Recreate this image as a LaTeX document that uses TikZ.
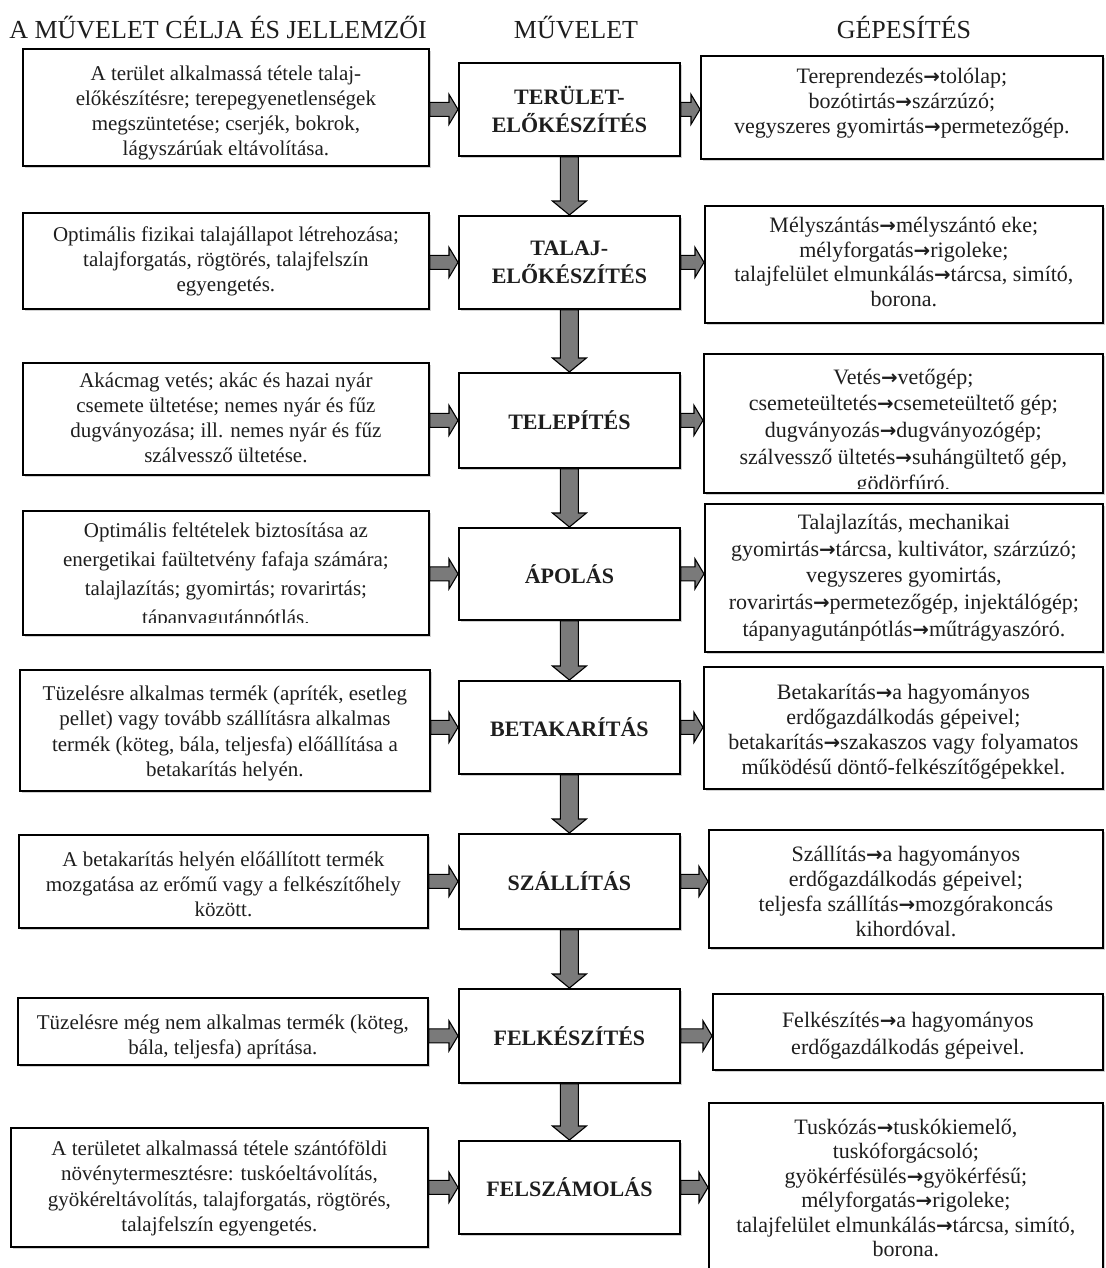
\documentclass[tikz,border=0pt]{standalone}
\usepackage{fontspec}
\setmainfont{Liberation Serif}
\newfontfamily\arrfont[Scale=0.9]{DejaVu Sans}
\newcommand\ra{{\arrfont\bfseries →}}
\newcommand\fl[1]{\fontsize{21}{#1}\selectfont}
\newcommand\fr[1]{\fontsize{22}{#1}\selectfont}
\usetikzlibrary{calc,shadows}
\definecolor{txtcol}{HTML}{1E1E1E}
\definecolor{arrgray}{HTML}{7A7A7A}
\tikzset{
  boxst/.style={draw=black, line width=1.8pt, fill=white, rectangle, inner sep=0pt,
    drop shadow={shadow xshift=2pt, shadow yshift=-2pt, opacity=0.35}},
  txtst/.style={align=center, inner sep=0pt, text=txtcol},
  opst/.style={boxst, align=center, text=txtcol, font=\fontsize{22}{28}\selectfont\bfseries},
  arrst/.style={fill=arrgray, draw=black, line width=1.1pt, line join=miter},
  hdst/.style={font=\fontsize{26}{30}\selectfont, text=txtcol, inner sep=0pt, anchor=base},
}
% text box: name, x1, y1, x2, y2, font, top pad, bottom inset, text
\newcommand\tbox[9]{%
  \node[boxst, anchor=north west, minimum width={#4-#2}, minimum height={#5-#3},
    path picture={%
      \node[txtst, anchor=north, font=#6] (#1t)
        at ([yshift={-(#7)*1pt}]path picture bounding box.north) {\rule{0pt}{17pt}#9};
      \fill[white] ([yshift={(#8)*1pt}]path picture bounding box.south west)
        rectangle (path picture bounding box.south east);
    }] (#1) at (#2,#3) {};}
% horizontal block arrow from x of #1 to x of #2 at y of #3
\newcommand\harr[3]{%
  \filldraw[arrst] let \p1=(#1), \p2=(#2), \p3=(#3) in
    (\x1,\y3+7pt) -- (\x2-9pt,\y3+7pt) -- (\x2-9pt,\y3+15pt) -- (\x2,\y3)
    -- (\x2-9pt,\y3-15pt) -- (\x2-9pt,\y3-7pt) -- (\x1,\y3-7pt) -- cycle;}
% vertical block arrow downwards from #1 to #2
\newcommand\varr[2]{%
  \filldraw[arrst] let \p1=(#1), \p2=(#2) in
    (\x1-9pt,\y1) -- (\x1-9pt,\y2+14pt) -- (\x1-17pt,\y2+14pt) -- (\x1,\y2)
    -- (\x1+17pt,\y2+14pt) -- (\x1+9pt,\y2+14pt) -- (\x1+9pt,\y1) -- cycle;}
\begin{document}
\begin{tikzpicture}[x=1pt,y=-1pt]
\useasboundingbox (0,0) rectangle (1105,1268);
\fill[white] (0,0) rectangle (1105,1268);

% headers
\node[hdst] (h1) at (218,39) {A MŰVELET CÉLJA ÉS JELLEMZŐI};
\node[hdst] (h2) at (576,39) {MŰVELET};
\node[hdst] (h3) at (904,39) {GÉPESÍTÉS};

% left column
\tbox{L1}{22}{48}{428}{165}{\fl{25}}{3}{5}{A terület alkalmassá tétele talaj-\\előkészítésre; terepegyenetlenségek\\megszüntetése; cserjék, bokrok,\\lágyszárúak eltávolítása.}
\tbox{L2}{22}{212}{428}{308}{\fl{25}}{-2}{5}{Optimális fizikai talajállapot létrehozása;\\talajforgatás, rögtörés, talajfelszín\\egyengetés.}
\tbox{L3}{22}{362}{428}{474}{\fl{25}}{-3}{5}{Akácmag vetés; akác és hazai nyár\\csemete ültetése; nemes nyár és fűz\\dugványozása; ill. nemes nyár és fűz\\szálvessző ültetése.}
\tbox{L4}{22}{510}{428}{634}{\fl{29}}{1}{12}{Optimális feltételek biztosítása az\\energetikai faültetvény fafaja számára;\\talajlazítás; gyomirtás; rovarirtás;\\tápanyagutánpótlás.}
\tbox{L5}{19}{669}{429}{790}{\fl{25.5}}{1}{5}{Tüzelésre alkalmas termék (apríték, esetleg\\pellet) vagy tovább szállításra alkalmas\\termék (köteg, bála, teljesfa) előállítása a\\betakarítás helyén.}
\tbox{L6}{18}{834}{427}{927}{\fl{25}}{1}{5}{A betakarítás helyén előállított termék\\mozgatása az erőmű vagy a felkészítőhely\\között.}
\tbox{L7}{17}{997}{427}{1064}{\fl{25}}{3}{5}{Tüzelésre még nem alkalmas termék (köteg,\\bála, teljesfa) aprítása.}
\tbox{L8}{10}{1127}{427}{1246}{\fl{25.5}}{-1}{5}{A területet alkalmassá tétele szántóföldi\\növénytermesztésre: tuskóeltávolítás,\\gyökéreltávolítás, talajforgatás, rögtörés,\\talajfelszín egyengetés.}

% middle column
\node[opst, anchor=north west, minimum width=221pt, minimum height=93pt] (M1) at (458,62) {TERÜLET-\\ELŐKÉSZÍTÉS};
\node[opst, anchor=north west, minimum width=221pt, minimum height=93pt] (M2) at (458,215) {TALAJ-\\ELŐKÉSZÍTÉS};
\node[opst, anchor=north west, minimum width=221pt, minimum height=95pt] (M3) at (458,372) {TELEPÍTÉS};
\node[opst, anchor=north west, minimum width=221pt, minimum height=92pt] (M4) at (458,527) {ÁPOLÁS};
\node[opst, anchor=north west, minimum width=221pt, minimum height=93pt] (M5) at (458,680) {BETAKARÍTÁS};
\node[opst, anchor=north west, minimum width=221pt, minimum height=95pt] (M6) at (458,833) {SZÁLLÍTÁS};
\node[opst, anchor=north west, minimum width=221pt, minimum height=94pt] (M7) at (458,988) {FELKÉSZÍTÉS};
\node[opst, anchor=north west, minimum width=221pt, minimum height=93pt] (M8) at (458,1140) {FELSZÁMOLÁS};

% right column
\tbox{R1}{700}{55}{1102}{158}{\fr{25}}{-6}{5}{Tereprendezés\ra tolólap;\\bozótirtás\ra szárzúzó;\\vegyszeres gyomirtás\ra permetezőgép.}
\tbox{R2}{704}{205}{1102}{322}{\fr{24.7}}{-4}{5}{Mélyszántás\ra mélyszántó eke;\\mélyforgatás\ra rigoleke;\\talajfelület elmunkálás\ra tárcsa, simító,\\borona.}
\tbox{R3}{703}{353}{1102}{492}{\fr{26.7}}{7}{4}{Vetés\ra vetőgép;\\csemeteültetés\ra csemeteültető gép;\\dugványozás\ra dugványozógép;\\szálvessző ültetés\ra suhángültető gép,\\gödörfúró.}
\tbox{R4}{704}{503}{1102}{651}{\fr{26.7}}{-2}{5}{Talajlazítás, mechanikai\\gyomirtás\ra tárcsa, kultivátor, szárzúzó;\\vegyszeres gyomirtás,\\rovarirtás\ra permetezőgép, injektálógép;\\tápanyagutánpótlás\ra műtrágyaszóró.}
\tbox{R5}{703}{666}{1102}{788}{\fr{25}}{2}{5}{Betakarítás\ra a hagyományos\\erdőgazdálkodás gépeivel;\\betakarítás\ra szakaszos vagy folyamatos\\működésű döntő-felkészítőgépekkel.}
\tbox{R6}{708}{829}{1102}{947}{\fr{25}}{1}{5}{Szállítás\ra a hagyományos\\erdőgazdálkodás gépeivel;\\teljesfa szállítás\ra mozgórakoncás\\kihordóval.}
\tbox{R7}{712}{993}{1102}{1069}{\fr{27}}{2}{5}{Felkészítés\ra a hagyományos\\erdőgazdálkodás gépeivel.}
\tbox{R8}{708}{1102}{1102}{1275}{\fr{24.5}}{-3}{5}{Tuskózás\ra tuskókiemelő,\\tuskóforgácsoló;\\gyökérfésülés\ra gyökérfésű;\\mélyforgatás\ra rigoleke;\\talajfelület elmunkálás\ra tárcsa, simító,\\borona.}

% arrows
\foreach \i in {1,...,8} {
  \harr{L\i.east}{M\i.west}{M\i.center}
  \harr{M\i.east}{R\i.west}{M\i.center}
}
\foreach \i [evaluate=\i as \j using int(\i+1)] in {1,...,7} {
  \varr{M\i.south}{M\j.north}
}
\end{tikzpicture}
\end{document}
